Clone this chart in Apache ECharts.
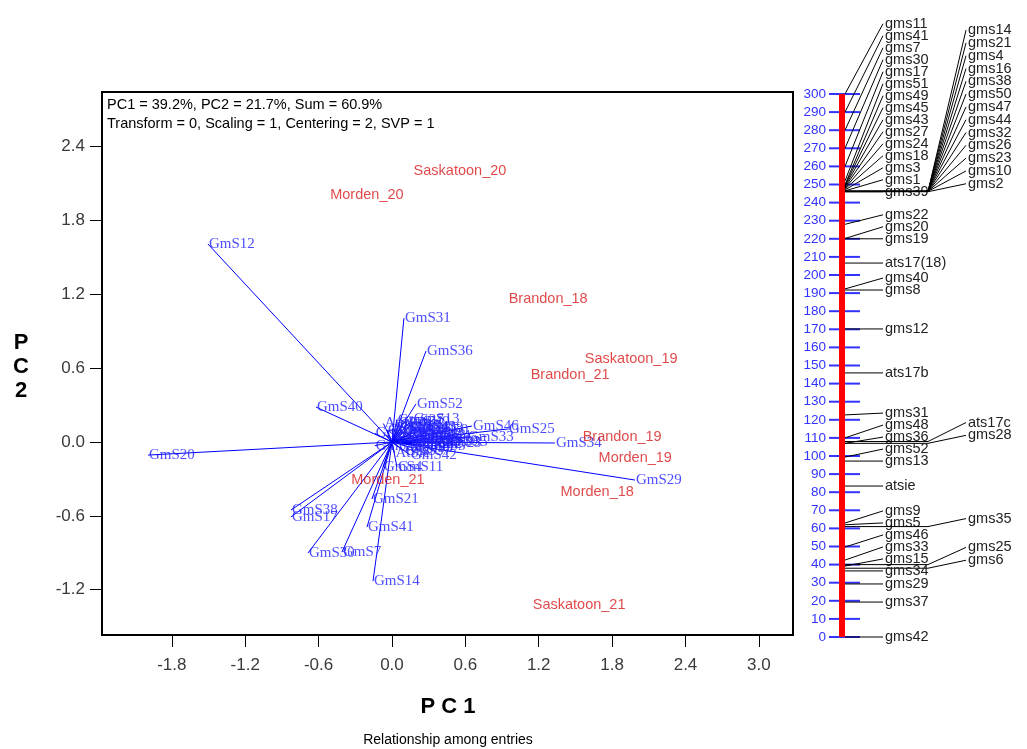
<!DOCTYPE html>
<html><head><meta charset="utf-8">
<script src="https://cdn.jsdelivr.net/npm/echarts@6/dist/echarts.min.js"></script>
<style>html,body{margin:0;padding:0;background:#fff}#c{width:1027px;height:749px}</style>
</head><body><div id="c"></div>
<script>
// ---- environments (red labels) ----
const envNames = ['Saskatoon_20','Morden_20','Brandon_18','Saskatoon_19','Brandon_21','Brandon_19','Morden_19','Morden_18','Morden_21','Saskatoon_21'];
const envPC1 = [0.556,-0.205,1.277,1.956,1.457,1.882,1.989,1.678,-0.033,1.530];
const envPC2 = [2.202,2.008,1.162,0.675,0.544,0.041,-0.130,-0.406,-0.309,-1.325];

// ---- marker vectors (blue) ----
const markerNames = ['GmS12','GmS31','GmS36','GmS40','GmS52','GmS46','GmS25','GmS33','GmS34','GmS20','GmS29','GmS42','GmS4','GmS11','GmS21','GmS38','GmS17','GmS41','GmS30','GmS7','GmS14',
  'GmS1','GmS2','GmS3','GmS5','GmS6','GmS8','GmS9','GmS10','GmS13','GmS15','GmS16','GmS18','GmS19','GmS22','GmS23','GmS24','GmS26','GmS27','GmS28','GmS32','GmS35','GmS37','GmS39','GmS43','GmS44','GmS45','GmS47','GmS48','GmS49','GmS50','GmS51','AtS17b','AtS17c','AtSie','AtS17(18)'];
const markerPC1 = [-1.505,0.098,0.278,-0.621,0.196,0.654,0.948,0.613,1.332,-1.995,1.987,0.147,-0.074,0.041,-0.164,-0.826,-0.826,-0.204,-0.687,-0.409,-0.155,
  0.10,0.25,0.06,0.28,0.22,-0.05,0.18,0.32,0.17,0.30,0.12,0.20,-0.14,-0.14,0.35,0.13,0.15,0.04,0.08,0.22,0.40,0.10,0.05,0.14,0.26,0.03,0.18,-0.04,0.09,0.24,0.16,-0.07,0.08,0.02,0.00];
const markerPC2 = [1.609,1.007,0.739,0.284,0.309,0.130,0.106,0.041,-0.008,-0.106,-0.309,-0.106,-0.203,-0.203,-0.463,-0.553,-0.609,-0.691,-0.902,-0.894,-1.130,
  0.08,-0.02,0.14,-0.03,0.02,0.06,-0.05,0.01,0.19,0.02,0.03,0.11,0.07,-0.03,-0.01,0.05,-0.02,0.18,0.10,0.06,0.00,-0.07,-0.04,0.12,0.05,0.03,0.00,0.10,0.16,0.10,0.07,0.15,0.13,-0.09,0.11];

const pc1Ticks = [-1.8,-1.2,-0.6,0.0,0.6,1.2,1.8,2.4,3.0];
const pc2Ticks = [-1.2,-0.6,0.0,0.6,1.2,1.8,2.4];

// ---- linkage map ----
const mapTicks = [0,10,20,30,40,50,60,70,80,90,100,110,120,130,140,150,160,170,180,190,200,210,220,230,240,250,260,270,280,290,300];
const mapNames = ['gms11','gms41','gms7','gms30','gms17','gms51','gms49','gms45','gms43','gms27','gms24','gms18','gms3','gms1','gms39',
  'gms14','gms21','gms4','gms16','gms38','gms50','gms47','gms44','gms32','gms26','gms23','gms10','gms2',
  'gms22','gms20','gms19','ats17(18)','gms40','gms8','gms12','ats17b','gms31','gms48','gms36','ats17c','gms28','gms52','gms13','atsie',
  'gms9','gms5','gms35','gms46','gms33','gms15','gms25','gms6','gms34','gms29','gms37','gms42'];
const mapPos = [300,290,280,270,260,252,250,249.5,249,248.5,248,247.5,247,246.5,246,
  246.2,246.2,246.2,246.2,246.2,246.2,246.2,246.2,246.2,246.2,246.2,246.2,246.0,
  228,220.2,220,206.6,192.3,191.7,170.2,145.9,122.7,110,107,108,107,99.4,97.2,83.4,
  63,62,61,49.7,42.5,39.2,40,38,36.5,29.3,19.3,0];
const mapColumn = [1,1,1,1,1,1,1,1,1,1,1,1,1,1,1,
  2,2,2,2,2,2,2,2,2,2,2,2,2,
  1,1,1,1,1,1,1,1,1,1,1,2,2,1,1,1,
  1,1,2,1,1,1,2,2,1,1,1,1];

const MAP_TOP = 94, MAP_H = 543, MAP_MAX = 300;
const PX_PER_CM = MAP_H / MAP_MAX;

// label stacking: push labels upward from the lowest marker so they never overlap
function stackLabels(col, startPx, gapPx) {
  const idx = mapNames.map((_, i) => i).filter(i => mapColumn[i] === col);
  idx.sort((a, b) => (mapPos[a] - mapPos[b]) || (b - a));
  const res = {};
  let prev = -Infinity;
  idx.forEach(i => {
    const want = mapPos[i] + startPx / PX_PER_CM;
    const v = Math.max(want, prev + gapPx / PX_PER_CM);
    res[i] = v; prev = v;
  });
  return res;
}
const lab1 = stackLabels(1, 0, 12);
const lab2 = stackLabels(2, 8, 12.8);
const mapLabelPos = mapNames.map((_, i) => mapColumn[i] === 1 ? lab1[i] : lab2[i]);

const chart = echarts.init(document.getElementById('c'), null, {renderer: 'canvas'});
const SANS = '"Liberation Sans", Arial, sans-serif';
const SERIF = '"Liberation Serif", "Times New Roman", serif';

const option = {
  animation: false,
  backgroundColor: '#fff',
  grid: [
    {left: 102, top: 92, width: 691, height: 543, show: true, borderColor: '#000', borderWidth: 2, backgroundColor: 'transparent', containLabel: false},
    {left: 800, top: MAP_TOP, width: 227, height: MAP_H, show: false}
  ],
  xAxis: [
    {gridIndex: 0, type: 'value', min: -2.371, max: 3.279, position: 'bottom',
     axisLine: {show: false, onZero: false}, splitLine: {show: false},
     axisTick: {show: true, length: 12, lineStyle: {color: '#000', width: 1}, customValues: pc1Ticks},
     axisLabel: {show: true, customValues: pc1Ticks, formatter: v => v.toFixed(1), color: '#3a3a3a', fontSize: 17, fontFamily: SANS, margin: 22}},
    {gridIndex: 1, type: 'value', min: 0, max: 227, show: false}
  ],
  yAxis: [
    {gridIndex: 0, type: 'value', min: -1.568, max: 2.844, position: 'left',
     axisLine: {show: false, onZero: false}, splitLine: {show: false},
     axisTick: {show: true, length: 12, lineStyle: {color: '#000', width: 1}, customValues: pc2Ticks},
     axisLabel: {show: true, customValues: pc2Ticks, formatter: v => v.toFixed(1), color: '#3a3a3a', fontSize: 17, fontFamily: SANS, margin: 17}},
    {gridIndex: 1, type: 'value', min: 0, max: MAP_MAX, show: false}
  ],
  graphic: [
    {type: 'text', left: 107, top: 97, style: {text: 'PC1 = 39.2%, PC2 = 21.7%, Sum = 60.9%', font: '14.5px ' + SANS, fill: '#000'}},
    {type: 'text', left: 107, top: 116, style: {text: 'Transform = 0, Scaling = 1, Centering = 2, SVP = 1', font: '14.5px ' + SANS, fill: '#000'}},
    {type: 'text', x: 448, y: 707, style: {text: 'P C 1', font: 'bold 22px ' + SANS, fill: '#000', align: 'center', verticalAlign: 'middle'}},
    {type: 'text', x: 21, y: 367, style: {text: 'P\nC\n2', font: 'bold 22px ' + SANS, lineHeight: 24, fill: '#000', align: 'center', verticalAlign: 'middle'}},
    {type: 'text', x: 448, y: 740, style: {text: 'Relationship among entries', font: '14px ' + SANS, fill: '#000', align: 'center', verticalAlign: 'middle'}}
  ],
  series: [
    {type: 'lines', coordinateSystem: 'cartesian2d', xAxisIndex: 0, yAxisIndex: 0, silent: true,
     data: markerNames.map((n, i) => ({coords: [[0, 0], [markerPC1[i], markerPC2[i]]]})),
     lineStyle: {color: '#0000ff', width: 1, opacity: 1}},
    {type: 'scatter', xAxisIndex: 0, yAxisIndex: 0, symbolSize: 0, silent: true,
     data: markerNames.map((n, i) => ({name: n, value: [markerPC1[i], markerPC2[i]]})),
     label: {show: true, position: 'right', distance: 1, formatter: '{b}', color: '#2020ff', fontFamily: SERIF, fontSize: 15}},
    {type: 'scatter', xAxisIndex: 0, yAxisIndex: 0, symbolSize: 0, silent: true,
     data: envNames.map((n, i) => ({name: n, value: [envPC1[i], envPC2[i]]})),
     label: {show: true, position: 'inside', formatter: '{b}', color: '#d81c1c', fontFamily: SANS, fontSize: 14.5}},
    // map ticks and tick labels
    {type: 'custom', xAxisIndex: 1, yAxisIndex: 1, clip: false, silent: true,
     data: mapTicks.map(v => [v]),
     renderItem: (params, api) => {
       const v = api.value(0);
       const a = api.coord([29, v]), b = api.coord([60, v]), t = api.coord([26, v]);
       return {type: 'group', children: [
         {type: 'line', shape: {x1: a[0], y1: a[1], x2: b[0], y2: b[1]}, style: {stroke: '#3333ff', lineWidth: 2}},
         {type: 'text', x: t[0], y: t[1], style: {text: String(v), fill: '#3333ff', font: '13.5px ' + SANS, align: 'right', verticalAlign: 'middle'}}
       ]};
     }},
    // red chromosome bar
    {type: 'custom', xAxisIndex: 1, yAxisIndex: 1, clip: false, silent: true,
     data: [[0, MAP_MAX]],
     renderItem: (params, api) => {
       const p0 = api.coord([39, api.value(1)]), p1 = api.coord([45, api.value(0)]);
       return {type: 'rect', shape: {x: p0[0], y: p0[1], width: p1[0] - p0[0], height: p1[1] - p0[1]}, style: {fill: '#ff0000'}};
     }},
    // markers on the map
    {type: 'custom', xAxisIndex: 1, yAxisIndex: 1, clip: false, silent: true,
     data: mapNames.map((n, i) => [i, mapPos[i], mapLabelPos[i], mapColumn[i]]),
     renderItem: (params, api) => {
       const i = api.value(0), pos = api.value(1), lab = api.value(2), col = api.value(3);
       const p0 = api.coord([45, pos]);
       let pts, t;
       if (col === 1) {
         const p1 = api.coord([83, lab]);
         pts = [p0, p1]; t = api.coord([85, lab]);
       } else {
         const h = api.coord([128, pos]), p1 = api.coord([166, lab]);
         pts = [p0, h, p1]; t = api.coord([168, lab]);
       }
       return {type: 'group', children: [
         {type: 'polyline', shape: {points: pts}, style: {stroke: '#000', lineWidth: 1, fill: null}},
         {type: 'text', x: t[0], y: t[1], style: {text: mapNames[i], fill: '#222', font: '14.5px ' + SANS, align: 'left', verticalAlign: 'middle'}}
       ]};
     }}
  ]
};
chart.setOption(option);
</script></body></html>
